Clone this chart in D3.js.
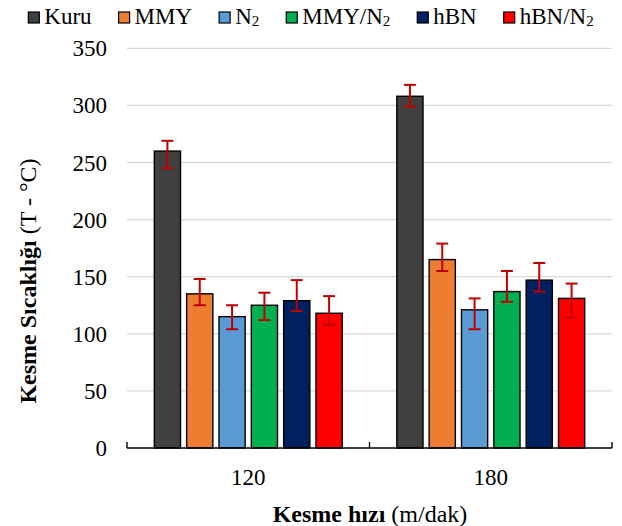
<!DOCTYPE html>
<html>
<head>
<meta charset="utf-8">
<script src="https://cdn.jsdelivr.net/npm/d3@7"></script>
<style>
  body { margin: 0; background: #fff; }
  svg text { font-family: "Liberation Serif", "Times New Roman", serif; fill: #000; }
</style>
</head>
<body>
<svg id="chart" width="622" height="526"></svg>
<script>
// data
const speeds = ["120", "180"];
const seriesNames = ["Kuru", "MMY", "N2", "MMY/N2", "hBN", "hBN/N2"];
const seriesColors = ["#404040", "#ED7D31", "#5B9BD5", "#00B050", "#002060", "#FF0000"];
const values120 = [260, 135, 115, 125, 129, 118];
const values180 = [308, 165, 121, 137, 147, 131];
const errPlus120 = [9, 13, 10, 11, 18, 15];
const errMinus120 = [15, 10, 11, 13, 9, 10];
const errPlus180 = [10, 14, 10, 18, 15, 13];
const errMinus180 = [9, 10, 17, 9, 10, 17];
const yTicks = [0, 50, 100, 150, 200, 250, 300, 350];

const svg = d3.select("#chart");
const serif = "'Liberation Serif', 'Times New Roman', serif";

const plotLeft = 127, plotRight = 612, plotTop = 48.3, plotBottom = 448;

// build rows from the arrays
const rows = [
    { speed: "120", values: values120, plus: errPlus120, minus: errMinus120 },
    { speed: "180", values: values180, plus: errPlus180, minus: errMinus180 }
];

//scales
const x0 = d3.scaleBand()
    .domain(speeds)
    .range([plotLeft, plotRight])
    .paddingInner(0.2)
    .paddingOuter(0.1);

const x1 = d3.scaleBand()
    .domain(seriesNames)
    .range([0, x0.bandwidth()])
    .paddingInner(0.19)
    .paddingOuter(0.095);

const y = d3.scaleLinear()
    .domain([0, 350])
    .range([plotBottom, plotTop]);

//gridlines
svg.append("g")
    .selectAll("line")
    .data(yTicks.filter(d => d > 0))
    .join("line")
    .attr("x1", plotLeft)
    .attr("x2", plotRight)
    .attr("y1", d => y(d))
    .attr("y2", d => y(d))
    .attr("stroke", "#D9D9D9")
    .attr("stroke-width", 1.3);

//y tick labels
svg.append("g")
    .selectAll("text")
    .data(yTicks)
    .join("text")
    .attr("x", 107)
    .attr("y", d => y(d))
    .attr("dy", "0.35em")
    .attr("text-anchor", "end")
    .attr("font-family", serif)
    .attr("font-size", 23)
    .text(d => d);

//bars
const groups = svg.append("g")
    .selectAll("g")
    .data(rows)
    .join("g")
    .attr("transform", d => "translate(" + x0(d.speed) + ",0)");

groups.selectAll("rect")
    .data(d => d.values.map((v, i) => ({ name: seriesNames[i], value: v, color: seriesColors[i] })))
    .join("rect")
    .attr("x", d => x1(d.name))
    .attr("width", x1.bandwidth())
    .attr("y", d => y(d.value))
    .attr("height", d => y(0) - y(d.value))
    .attr("fill", d => d.color)
    .attr("stroke", "#000")
    .attr("stroke-width", 1.4);

//error bars
const capW = 12;
const errs = groups.selectAll("g.err")
    .data(d => d.values.map((v, i) => ({ name: seriesNames[i], hi: v + d.plus[i], lo: v - d.minus[i] })))
    .join("g")
    .attr("class", "err")
    .attr("stroke", "#C00000")
    .attr("stroke-width", 2);

errs.append("line")
    .attr("x1", d => x1(d.name) + x1.bandwidth() / 2)
    .attr("x2", d => x1(d.name) + x1.bandwidth() / 2)
    .attr("y1", d => y(d.hi))
    .attr("y2", d => y(d.lo));
errs.append("line")
    .attr("x1", d => x1(d.name) + x1.bandwidth() / 2 - capW / 2)
    .attr("x2", d => x1(d.name) + x1.bandwidth() / 2 + capW / 2)
    .attr("y1", d => y(d.hi))
    .attr("y2", d => y(d.hi));
errs.append("line")
    .attr("x1", d => x1(d.name) + x1.bandwidth() / 2 - capW / 2)
    .attr("x2", d => x1(d.name) + x1.bandwidth() / 2 + capW / 2)
    .attr("y1", d => y(d.lo))
    .attr("y2", d => y(d.lo));

//x axis line with ticks going up
const xAxis = svg.append("g").attr("stroke", "#000").attr("stroke-width", 1.4);
xAxis.append("line")
    .attr("x1", plotLeft).attr("x2", plotRight)
    .attr("y1", plotBottom).attr("y2", plotBottom);
const tickPos = [plotLeft].concat(speeds.map(s => x0(s) + x0.bandwidth() + x0.step() * x0.paddingInner() / 2));
tickPos[tickPos.length - 1] = plotRight;
xAxis.selectAll("line.tick")
    .data(tickPos)
    .join("line")
    .attr("class", "tick")
    .attr("x1", d => d).attr("x2", d => d)
    .attr("y1", plotBottom).attr("y2", plotBottom - 6);

//x tick labels
svg.append("g")
    .selectAll("text")
    .data(speeds)
    .join("text")
    .attr("x", d => x0(d) + x0.bandwidth() / 2)
    .attr("y", 485)
    .attr("text-anchor", "middle")
    .attr("font-family", serif)
    .attr("font-size", 23)
    .text(d => d);

//axis titles
const xTitle = svg.append("text")
    .attr("x", 370)
    .attr("y", 522)
    .attr("text-anchor", "middle")
    .attr("font-family", serif)
    .attr("font-size", 24);
xTitle.append("tspan").attr("font-weight", "bold").text("Kesme hızı");
xTitle.append("tspan").text(" (m/dak)");

const yTitle = svg.append("text")
    .attr("transform", "translate(36,281) rotate(-90)")
    .attr("text-anchor", "middle")
    .attr("font-family", serif)
    .attr("font-size", 24);
yTitle.append("tspan").attr("font-weight", "bold").text("Kesme Sıcaklığı");
yTitle.append("tspan").text(" (T - °C)");

//legend - "2" drawn as a small lowered digit
const legend = svg.append("g");
const sq = 11;
let lx = 0;
seriesNames.forEach((name, i) => {
    const item = legend.append("g").attr("transform", "translate(" + lx + ",0)");
    item.append("rect")
        .attr("x", 0).attr("y", 12)
        .attr("width", sq).attr("height", sq)
        .attr("fill", seriesColors[i])
        .attr("stroke", "#000")
        .attr("stroke-width", 1.2);
    const t = item.append("text")
        .attr("x", sq + 5)
        .attr("y", 24)
        .attr("font-family", serif)
        .attr("font-size", 23);
    const parts = name.split("2");
    t.append("tspan").text(parts[0]);
    if (parts.length > 1) {
        t.append("tspan").attr("font-size", 15).attr("dy", 2).text("2");
    }
    lx += sq + 5 + t.node().getComputedTextLength() + 27;
});
const legendW = lx - 27;
legend.attr("transform", "translate(" + (311 - legendW / 2) + ",0)");
</script>
</body>
</html>
